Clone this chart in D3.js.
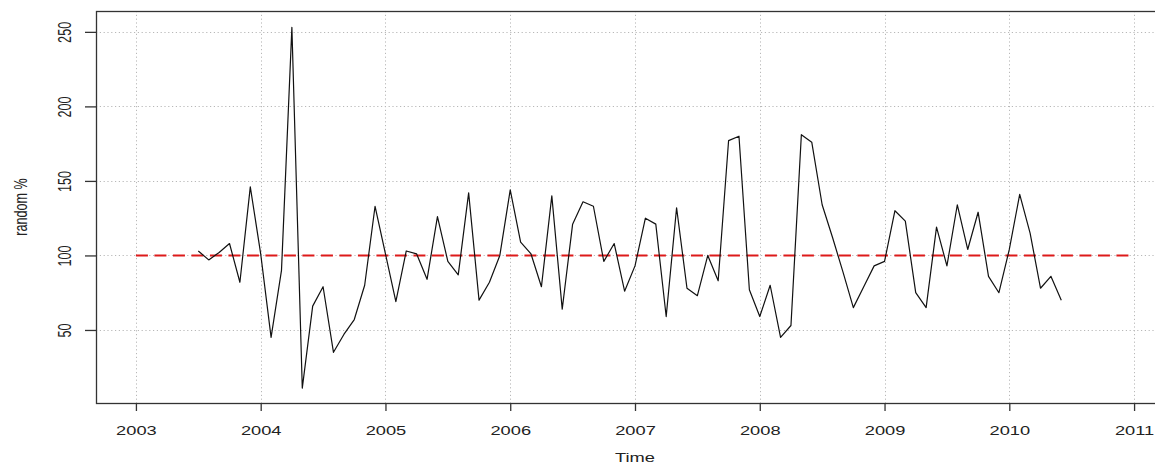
<!DOCTYPE html>
<html>
<head>
<meta charset="utf-8">
<script src="https://cdn.jsdelivr.net/npm/d3@7/dist/d3.min.js"></script>
<style>
  html, body { margin: 0; padding: 0; background: #fff; }
  svg { display: block; }
  text { font-family: "Liberation Sans", Arial, sans-serif; fill: #222; }
</style>
</head>
<body>
<svg id="chart" width="1155" height="464"></svg>
<script>
// ---- data (monthly, Jul 2003 .. Jun 2010) ----
const startYear = 2003;
const startMonth = 7; // July
const values = [
  103, 97, 102, 108, 82, 146,
  101, 45, 90, 253, 11, 66, 79, 35, 47, 57, 80, 133,
  101, 69, 103, 101, 84, 126, 96, 87, 142, 70, 82, 100,
  144, 109, 101, 79, 140, 64, 121, 136, 133, 96, 108, 76,
  93, 125, 121, 59, 132, 78, 73, 100, 83, 177, 180, 77,
  59, 80, 45, 53, 181, 176, 134, 112, 89, 65, 79, 93,
  96, 130, 123, 75, 65, 119, 93, 134, 104, 129, 86, 75,
  104, 141, 115, 78, 86, 70
];
const xTicks = [2003, 2004, 2005, 2006, 2007, 2008, 2009, 2010, 2011];
const yTicks = [50, 100, 150, 200, 250];
const refValue = 100;
const refRange = [2003, 2011];
const xLabel = "Time";
const yLabel = "random %";

const series = values.map((v, i) => ({ t: startYear + (startMonth - 1 + i) / 12, v }));

const svg = d3.select("#chart");
const pL = 96, pR = 1174, pT = 11, pB = 403;
const sx = 1.45; // horizontal stretch of the text glyphs

const x = d3.scaleLinear().domain([2002.68, 2011.32]).range([pL, pR]);
const y = d3.scaleLinear().domain([1, 264]).range([pB, pT]);

// grid
const grid = svg.append("g").attr("stroke", "#b8b8b8").attr("stroke-width", 1)
  .attr("stroke-dasharray", "1.2,2.6");
grid.selectAll("line.gx").data(xTicks).join("line")
  .attr("x1", d => Math.round(x(d)) + 0.5).attr("x2", d => Math.round(x(d)) + 0.5)
  .attr("y1", pT).attr("y2", pB);
grid.selectAll("line.gy").data(yTicks).join("line")
  .attr("x1", pL).attr("x2", pR)
  .attr("y1", d => Math.round(y(d)) + 0.5).attr("y2", d => Math.round(y(d)) + 0.5);

// reference line
svg.append("line")
  .attr("x1", x(refRange[0])).attr("x2", x(refRange[1]))
  .attr("y1", y(refValue)).attr("y2", y(refValue))
  .attr("stroke", "#dd1a1a").attr("stroke-width", 2)
  .attr("stroke-dasharray", "12,6.5");

// series line
svg.append("path").datum(series)
  .attr("fill", "none").attr("stroke", "#111").attr("stroke-width", 1.2)
  .attr("stroke-linejoin", "round")
  .attr("d", d3.line().x(d => x(d.t)).y(d => y(d.v)));

// box
svg.append("rect")
  .attr("x", pL + 0.5).attr("y", pT + 0.5)
  .attr("width", pR - pL).attr("height", pB - pT)
  .attr("fill", "none").attr("stroke", "#333").attr("stroke-width", 1.3);

// x axis
const gx = svg.append("g").attr("transform", `translate(0,${pB})`)
  .call(d3.axisBottom(x).tickValues(xTicks).tickFormat(d3.format("d")).tickSize(8));
gx.select(".domain").remove();
gx.selectAll(".tick line").attr("stroke", "#333").attr("stroke-width", 1.3);
gx.selectAll(".tick text")
  .attr("y", null).attr("dy", null)
  .attr("transform", `translate(0,32) scale(${sx},1)`)
  .attr("text-anchor", "middle")
  .style("font-size", "12.6px").style("font-family", '"Liberation Sans", Arial, sans-serif')
  .attr("fill", "#222");

// y axis
const gy = svg.append("g").attr("transform", `translate(${pL},0)`)
  .call(d3.axisLeft(y).tickValues(yTicks).tickFormat(d3.format("d")).tickSize(11));
gy.select(".domain").remove();
gy.selectAll(".tick line").attr("stroke", "#333").attr("stroke-width", 1.3);
gy.selectAll(".tick text")
  .attr("x", null).attr("dy", null)
  .attr("transform", `translate(-25.3,0) scale(${sx},1) rotate(-90)`)
  .attr("text-anchor", "middle")
  .style("font-size", "12.6px").style("font-family", '"Liberation Sans", Arial, sans-serif')
  .attr("fill", "#222");

// axis titles
svg.append("text")
  .attr("transform", `translate(${(pL + pR) / 2},462) scale(${sx},1)`)
  .attr("text-anchor", "middle").style("font-size", "12.6px")
  .text(xLabel);
svg.append("text")
  .attr("transform", `translate(26.5,${(pT + pB) / 2}) scale(${sx},1) rotate(-90)`)
  .attr("text-anchor", "middle").style("font-size", "12.6px")
  .text(yLabel);
</script>
</body>
</html>
